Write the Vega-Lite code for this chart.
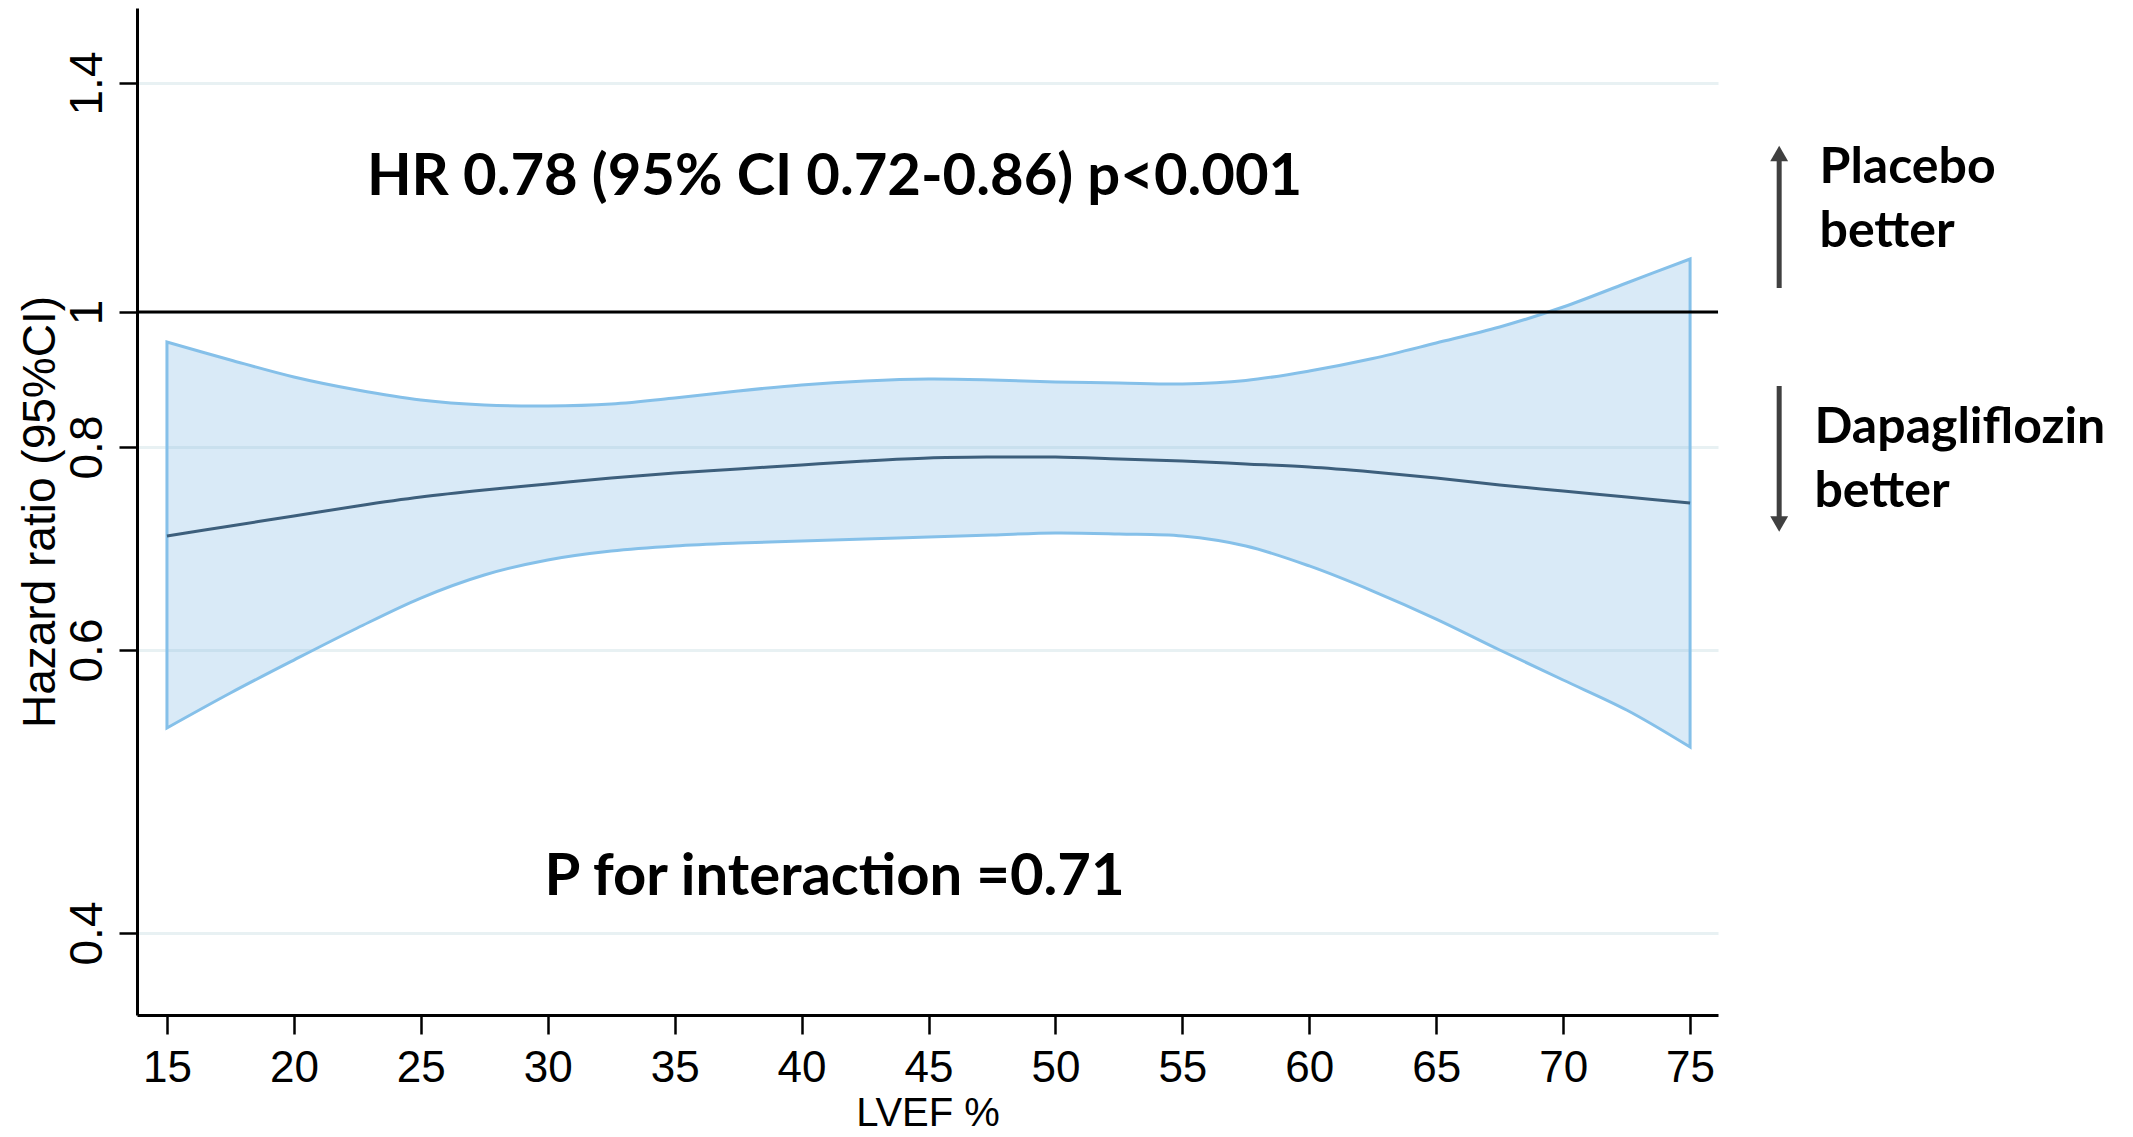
{
  "$schema": "https://vega.github.io/schema/vega-lite/v6.json",
  "width": 1581,
  "height": 1007,
  "autosize": {"type": "none"},
  "padding": {"left": 137, "top": 8, "right": 415, "bottom": 122},
  "background": "#ffffff",
  "config": {"view": {"stroke": null}, "font": "Liberation Sans"},
  "datasets": {
    "curve": [
      {"lvef": 15, "hr": 0.7123, "lo": 0.5449, "hi": 0.9556},
      {"lvef": 17.5, "hr": 0.7222, "lo": 0.5696, "hi": 0.9289},
      {"lvef": 20, "hr": 0.7320, "lo": 0.5929, "hi": 0.9037},
      {"lvef": 22.5, "hr": 0.7419, "lo": 0.6217, "hi": 0.8844},
      {"lvef": 25, "hr": 0.7507, "lo": 0.6512, "hi": 0.8696},
      {"lvef": 27.5, "hr": 0.7576, "lo": 0.6739, "hi": 0.8622},
      {"lvef": 30, "hr": 0.7635, "lo": 0.6887, "hi": 0.8607},
      {"lvef": 32.5, "hr": 0.7695, "lo": 0.6975, "hi": 0.8637},
      {"lvef": 35, "hr": 0.7744, "lo": 0.7025, "hi": 0.8726},
      {"lvef": 37.5, "hr": 0.7783, "lo": 0.7054, "hi": 0.8830},
      {"lvef": 40, "hr": 0.7823, "lo": 0.7074, "hi": 0.8919},
      {"lvef": 42.5, "hr": 0.7862, "lo": 0.7094, "hi": 0.8978},
      {"lvef": 45, "hr": 0.7892, "lo": 0.7113, "hi": 0.9007},
      {"lvef": 47.5, "hr": 0.7901, "lo": 0.7133, "hi": 0.8993},
      {"lvef": 50, "hr": 0.7901, "lo": 0.7153, "hi": 0.8963},
      {"lvef": 52.5, "hr": 0.7882, "lo": 0.7143, "hi": 0.8948},
      {"lvef": 55, "hr": 0.7862, "lo": 0.7123, "hi": 0.8933},
      {"lvef": 57.5, "hr": 0.7833, "lo": 0.7025, "hi": 0.8985},
      {"lvef": 60, "hr": 0.7803, "lo": 0.6828, "hi": 0.9126},
      {"lvef": 62.5, "hr": 0.7754, "lo": 0.6581, "hi": 0.9311},
      {"lvef": 65, "hr": 0.7695, "lo": 0.6305, "hi": 0.9541},
      {"lvef": 67.5, "hr": 0.7626, "lo": 0.6000, "hi": 0.9778},
      {"lvef": 70, "hr": 0.7567, "lo": 0.5788, "hi": 1.0087},
      {"lvef": 72.5, "hr": 0.7507, "lo": 0.5576, "hi": 1.0507},
      {"lvef": 75, "hr": 0.7448, "lo": 0.5314, "hi": 1.0926}
    ],
    "stats": [
      {"label": "HR 0.78 (95% CI 0.72-0.86) p<0.001", "lvef": 41.3, "hr": 1.2044},
      {"label": "P for interaction =0.71", "lvef": 41.3, "hr": 0.4268}
    ],
    "sides": [
      {"label": "Placebo", "lvef": 80.1, "hr": 1.2253},
      {"label": "better", "lvef": 80.1, "hr": 1.1135},
      {"label": "Dapagliflozin", "lvef": 79.9, "hr": 0.8059},
      {"label": "better", "lvef": 79.9, "hr": 0.7409}
    ],
    "arrows": [
      {"side": "placebo", "lvef": 78.51, "from": 1.0419, "to": 1.2655},
      {"side": "dapagliflozin", "lvef": 78.51, "from": 0.8904, "to": 0.7300}
    ],
    "heads": [
      {"side": "placebo", "lvef": 78.51, "hr": 1.2769},
      {"side": "dapagliflozin", "lvef": 78.51, "hr": 0.7241}
    ]
  },
  "layer": [
    {
      "data": {"name": "curve"},
      "mark": {"type": "area", "interpolate": "catmull-rom", "fill": "#80b9e4", "fillOpacity": 0.3, "stroke": "#85c0e9", "strokeWidth": 3},
      "encoding": {
        "x": {
          "field": "lvef", "type": "quantitative",
          "scale": {"domain": [13.82, 76.1], "nice": false, "zero": false},
          "axis": {
            "values": [15, 20, 25, 30, 35, 40, 45, 50, 55, 60, 65, 70, 75],
            "title": "LVEF %", "grid": false,
            "domainColor": "#000000", "domainWidth": 3,
            "tickColor": "#000000", "tickWidth": 2.5, "tickSize": 19,
            "labelFont": "Liberation Sans", "labelFontSize": 44, "labelColor": "#000000", "labelPadding": 12,
            "labelFlush": false, "labelOverlap": false,
            "titleFont": "Liberation Sans", "titleFontSize": 40, "titleFontWeight": "normal", "titleColor": "#000000", "titlePadding": 3
          }
        },
        "y": {
          "field": "lo", "type": "quantitative",
          "scale": {"domain": [0.342, 0.4, 0.6, 0.8, 1, 1.4, 1.531], "range": [1007, 925, 642, 439, 304, 75, 0], "nice": false, "zero": false},
          "axis": {
            "values": [0.4, 0.6, 0.8, 1, 1.4], "format": "~g",
            "title": "Hazard ratio (95%CI)",
            "grid": true, "gridColor": "#e8f1f3", "gridWidth": 3,
            "domainColor": "#000000", "domainWidth": 3,
            "tickColor": "#000000", "tickWidth": 2.5, "tickSize": 18,
            "labelAngle": 270, "labelAlign": "center", "labelBaseline": "alphabetic", "labelPadding": 18,
            "labelFont": "Liberation Sans", "labelFontSize": 46, "labelColor": "#000000", "labelOverlap": false,
            "titleFont": "Liberation Sans", "titleFontSize": 46, "titleFontWeight": "normal", "titleColor": "#000000", "titlePadding": 0
          }
        },
        "y2": {"field": "hi"}
      }
    },
    {
      "data": {"name": "curve"},
      "mark": {"type": "line", "interpolate": "catmull-rom", "color": "#3d5f7c", "strokeWidth": 3},
      "encoding": {
        "x": {"field": "lvef", "type": "quantitative"},
        "y": {"field": "hr", "type": "quantitative"}
      }
    },
    {
      "data": {"values": [{}]},
      "mark": {"type": "rule", "color": "#000000", "strokeWidth": 3},
      "encoding": {"y": {"datum": 1}}
    },
    {
      "data": {"name": "stats"},
      "mark": {"type": "text", "font": "Lato", "fontWeight": "bold", "fontSize": 58, "align": "center", "baseline": "alphabetic", "color": "#000000", "clip": false},
      "encoding": {
        "x": {"field": "lvef", "type": "quantitative"},
        "y": {"field": "hr", "type": "quantitative"},
        "text": {"field": "label"}
      }
    },
    {
      "data": {"name": "sides"},
      "mark": {"type": "text", "font": "Lato", "fontWeight": "bold", "fontSize": 50, "align": "left", "baseline": "alphabetic", "color": "#000000", "clip": false},
      "encoding": {
        "x": {"field": "lvef", "type": "quantitative"},
        "y": {"field": "hr", "type": "quantitative"},
        "text": {"field": "label"}
      }
    },
    {
      "data": {"name": "arrows"},
      "mark": {"type": "rule", "color": "#404040", "strokeWidth": 5, "clip": false},
      "encoding": {
        "x": {"field": "lvef", "type": "quantitative"},
        "y": {"field": "from", "type": "quantitative"},
        "y2": {"field": "to"}
      }
    },
    {
      "data": {"name": "heads"},
      "mark": {"type": "point", "filled": true, "color": "#404040", "opacity": 1, "size": 320, "clip": false},
      "encoding": {
        "x": {"field": "lvef", "type": "quantitative"},
        "y": {"field": "hr", "type": "quantitative"},
        "shape": {"field": "side", "type": "nominal", "scale": {"domain": ["placebo", "dapagliflozin"], "range": ["triangle-up", "triangle-down"]}, "legend": null}
      }
    }
  ]
}
